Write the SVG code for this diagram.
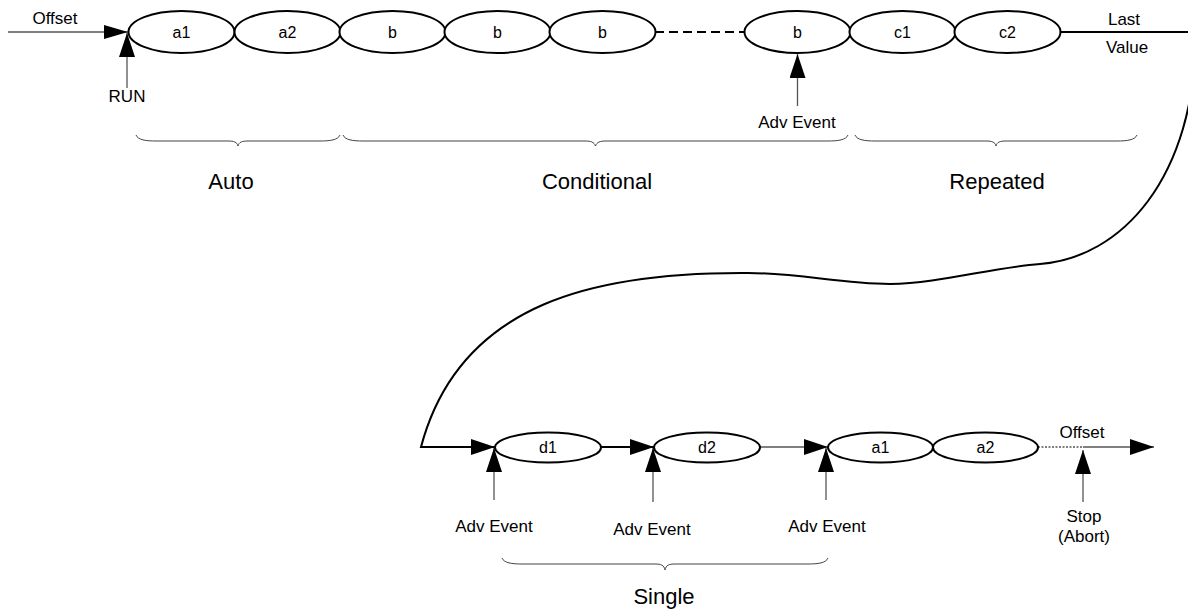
<svg xmlns="http://www.w3.org/2000/svg" width="1188" height="611" viewBox="0 0 1188 611">
<defs>
<style>
text{font-family:"Liberation Sans",Arial,sans-serif;fill:#000}
.node ellipse{fill:#fff;stroke:#000;stroke-width:2}
.nl{font-size:16px;text-anchor:middle}
.lbl{font-size:17px;text-anchor:middle}
.big{font-size:22px;text-anchor:middle}
.thick{fill:none;stroke:#000;stroke-width:2}
.thin{fill:none;stroke:#000;stroke-width:1.2}
.ev{fill:none;stroke:#555;stroke-width:1.3}
.brace{fill:none;stroke:#444;stroke-width:1}
</style>
<marker id="ah" markerUnits="userSpaceOnUse" markerWidth="24" markerHeight="16" refX="24" refY="8" orient="auto"><path d="M0,0 L24,8 L0,16 z" fill="#000"/></marker>
<marker id="ahs" markerUnits="userSpaceOnUse" markerWidth="24" markerHeight="14" refX="24" refY="7" orient="auto"><path d="M0,0 L24,7 L0,14 z" fill="#000"/></marker>
</defs>

<g id="connectors">
<line class="thin" x1="8" y1="32" x2="128" y2="32" marker-end="url(#ahs)"/>
<line class="ev" x1="127" y1="88" x2="127" y2="33" marker-end="url(#ah)"/>
<line class="thick" x1="655" y1="32" x2="745" y2="32" stroke-dasharray="9 5"/>
<line class="ev" x1="797.5" y1="106" x2="797.5" y2="54" marker-end="url(#ah)"/>
<line class="thick" x1="1060" y1="32" x2="1190" y2="32"/>
<path class="thick" d="M1196 30 C1196 180 1120 258 1040 264 C990 268 940 283 890 284 C840 284 800 273 748 273 C600 272 460 300 421 447 L495 447" marker-end="url(#ah)"/>
<line class="thick" x1="601" y1="447" x2="654" y2="447" marker-end="url(#ah)"/>
<line class="thin" x1="760" y1="447" x2="828" y2="447" marker-end="url(#ah)"/>
<line class="thin" x1="1038" y1="447" x2="1083" y2="447" stroke-dasharray="2 1.5"/>
<line class="thin" x1="1083" y1="447" x2="1154" y2="447" marker-end="url(#ah)"/>
<line class="ev" x1="494" y1="500" x2="494" y2="448" marker-end="url(#ah)"/>
<line class="ev" x1="653" y1="502" x2="653" y2="448" marker-end="url(#ah)"/>
<line class="ev" x1="826" y1="500" x2="826" y2="448" marker-end="url(#ah)"/>
<line class="ev" x1="1083" y1="502" x2="1083" y2="450" marker-end="url(#ah)"/>
</g>

<g id="labels">
<text class="lbl" x="55" y="24">Offset</text>
<text class="lbl" x="127" y="102">RUN</text>
<text class="lbl" x="797" y="128">Adv Event</text>
<text class="lbl" x="1124" y="25">Last</text>
<text class="lbl" x="1127" y="53">Value</text>
<text class="lbl" x="1082" y="438">Offset</text>
<text class="lbl" x="494" y="532">Adv Event</text>
<text class="lbl" x="652" y="535">Adv Event</text>
<text class="lbl" x="827" y="532">Adv Event</text>
<text class="lbl" x="1084" y="522">Stop</text>
<text class="lbl" x="1084" y="542">(Abort)</text>
</g>

<g id="braces">
<path class="brace" d="M136 135 C138 140 146 141 156 141 L228 141 C234 141 237 142 238 146 C239 142 242 141 248 141 L320 141 C330 141 338 140 340 135"/>
<path class="brace" d="M343 135 C345 140 353 141 363 141 L585 141 C591 141 594 142 595.5 146 C597 142 600 141 606 141 L828 141 C838 141 846 140 848 135"/>
<path class="brace" d="M855 135 C857 140 865 141 875 141 L986 141 C992 141 995 142 996 146 C997 142 1000 141 1006 141 L1117 141 C1127 141 1135 140 1137 135"/>
<path class="brace" d="M502 558 C504 563 512 564 522 564 L655 564 C661 564 664 565 665 570 C666 565 669 564 675 564 L808 564 C818 564 826 563 828 558"/>
<text class="big" x="231" y="189">Auto</text>
<text class="big" x="597" y="189">Conditional</text>
<text class="big" x="997" y="189">Repeated</text>
<text class="big" x="664" y="604">Single</text>
</g>

<g id="node-a1" class="node"><ellipse cx="181.5" cy="32" rx="53" ry="21"/><text class="nl" x="181.5" y="38">a1</text></g>
<g id="node-a2" class="node"><ellipse cx="287.5" cy="32" rx="53" ry="21"/><text class="nl" x="287.5" y="38">a2</text></g>
<g id="node-b1" class="node"><ellipse cx="392.5" cy="32" rx="53" ry="21"/><text class="nl" x="392.5" y="38">b</text></g>
<g id="node-b2" class="node"><ellipse cx="497.5" cy="32" rx="53" ry="21"/><text class="nl" x="497.5" y="38">b</text></g>
<g id="node-b3" class="node"><ellipse cx="602.5" cy="32" rx="53" ry="21"/><text class="nl" x="602.5" y="38">b</text></g>
<g id="node-b4" class="node"><ellipse cx="797.5" cy="32" rx="53" ry="21"/><text class="nl" x="797.5" y="38">b</text></g>
<g id="node-c1" class="node"><ellipse cx="902.5" cy="32" rx="53" ry="21"/><text class="nl" x="902.5" y="38">c1</text></g>
<g id="node-c2" class="node"><ellipse cx="1007.5" cy="32" rx="53" ry="21"/><text class="nl" x="1007.5" y="38">c2</text></g>

<g id="node-d1" class="node"><ellipse cx="548" cy="447.5" rx="53" ry="15"/><text class="nl" x="548" y="453">d1</text></g>
<g id="node-d2" class="node"><ellipse cx="707" cy="447.5" rx="53" ry="15"/><text class="nl" x="707" y="453">d2</text></g>
<g id="node-a1b" class="node"><ellipse cx="880.5" cy="447.5" rx="52.5" ry="15"/><text class="nl" x="880.5" y="453">a1</text></g>
<g id="node-a2b" class="node"><ellipse cx="985.5" cy="447.5" rx="52.5" ry="15"/><text class="nl" x="985.5" y="453">a2</text></g>
</svg>
